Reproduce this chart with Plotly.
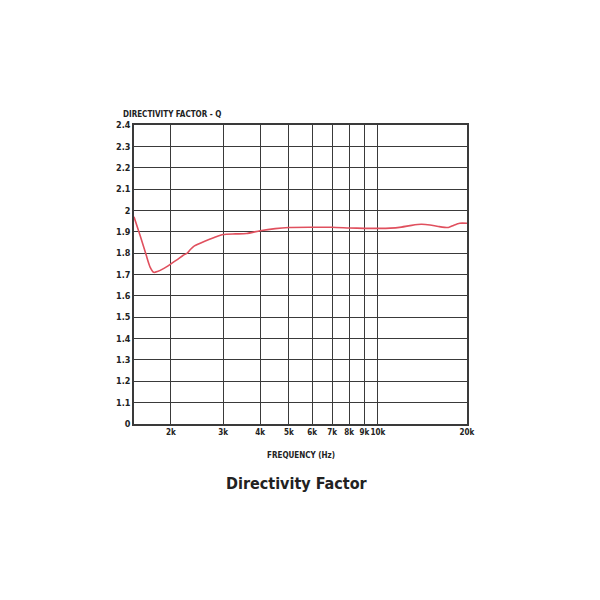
import numpy as np
import plotly.graph_objects as go

# Frecuencias (Hz) y factor de directividad Q
frecuencia = [1500, 1550, 1600, 1650, 1700, 1750, 1800, 1900, 2000, 2100, 2200, 2270,
              2330, 2400, 2600, 2800, 3000, 3300, 3600, 4000, 4500, 5000, 6000, 7000,
              8000, 9000, 10000, 11000, 12000, 13000, 14000, 15000, 16000, 17300,
              18000, 18900, 20000]
q = [1.97, 1.91, 1.85, 1.79, 1.735, 1.71, 1.714, 1.73, 1.75, 1.77, 1.79, 1.80,
     1.818, 1.834, 1.856, 1.873, 1.887, 1.89, 1.892, 1.905, 1.915, 1.92, 1.921, 1.921,
     1.918, 1.916, 1.916, 1.917, 1.922, 1.93, 1.935, 1.932, 1.925, 1.92,
     1.93, 1.94, 1.94]

ticks_x = [2000, 3000, 4000, 5000, 6000, 7000, 8000, 9000, 10000, 20000]
etiquetas_x = ["2k", "3k", "4k", "5k", "6k", "7k", "8k", "9k", "10k", "20k"]
ticks_y = [round(1.0 + 0.1 * i, 1) for i in range(15)]
etiquetas_y = ["0"] + ["%g" % v for v in ticks_y[1:]]

fuente = "DejaVu Sans Condensed, Liberation Sans, sans-serif"
gris = "#3a3a3a"

fig = go.Figure()
fig.add_trace(go.Scatter(x=frecuencia, y=q, mode="lines",
                         line=dict(color="#e0505e", width=1.6, shape="spline", smoothing=0.6),
                         showlegend=False, hoverinfo="skip"))

fig.update_xaxes(type="log", range=[np.log10(1500), np.log10(20000)],
                 tickvals=ticks_x, ticktext=etiquetas_x, ticks="", tickangle=0,
                 showgrid=True, gridcolor=gris, gridwidth=1.4,
                 showline=True, linecolor=gris, linewidth=1.6, mirror=True,
                 zeroline=False,
                 tickfont=dict(family=fuente, size=8, color="#222", weight="bold"))
fig.update_yaxes(range=[1.0, 2.4], tickvals=ticks_y, ticktext=etiquetas_y, ticks="",
                 showgrid=True, gridcolor=gris, gridwidth=1.4,
                 showline=True, linecolor=gris, linewidth=1.6, mirror=True,
                 zeroline=False,
                 tickfont=dict(family=fuente, size=9, color="#222", weight="bold"))

# la pagina tiene 8 px de margen propio: se descuentan aqui
fig.update_layout(width=600, height=600,
                  margin=dict(l=126, r=141, t=117, b=184),
                  paper_bgcolor="white", plot_bgcolor="white",
                  annotations=[
                      dict(text="<b>DIRECTIVITY FACTOR - Q</b>", xref="paper", yref="paper",
                           x=-0.04, y=1.012, xanchor="left", yanchor="bottom", showarrow=False,
                           font=dict(family=fuente, size=8, color="#222")),
                      dict(text="<b>FREQUENCY (Hz)</b>", xref="paper", yref="paper",
                           x=0.5, y=-0.085, xanchor="center", yanchor="top", showarrow=False,
                           font=dict(family=fuente, size=8, color="#222")),
                      dict(text="<b>Directivity Factor</b>", xref="paper", yref="paper",
                           x=0.49, y=-0.16, xanchor="center", yanchor="top", showarrow=False,
                           font=dict(family=fuente, size=16, color="#222")),
                  ])

fig.write_html("out.html")
